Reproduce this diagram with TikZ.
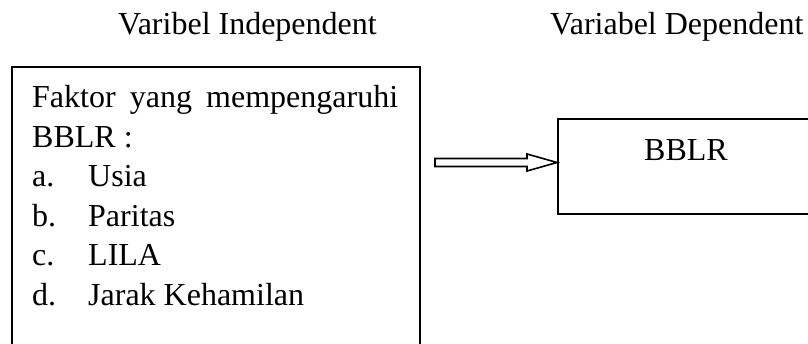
\documentclass[tikz,border=0pt]{standalone}
\usepackage{fontspec}
\setmainfont{Liberation Serif}
\begin{document}
\begin{tikzpicture}[x=1pt,y=-1pt,
  txt/.style={inner sep=0pt, anchor=base west, font=\fontsize{32}{38}\selectfont},
  frame/.style={draw=black, line width=2pt, inner sep=0pt, anchor=north west},
  blockarrow/.style={draw=black, line width=1.6pt, fill=white, line join=miter}]
  \useasboundingbox (0,0) rectangle (808,344);
  \clip (0,0) rectangle (808,344);

  % column headings
  \node[txt] (hind) at (118,35) {Varibel Independent};
  \node[txt] (hdep) at (550,35) {Variabel Dependent};

  % independent variable box
  \node[frame, minimum width=408pt, minimum height=300pt] (indep) at (11,66) {};
  \node[txt] (l1) at (32,108) {\makebox[366pt][s]{Faktor yang mempengaruhi}};
  \node[txt] (l2) at (32,147.5) {BBLR :};
  \node[txt] (ia) at (32,187) {a.};
  \node[txt] (ta) at (88,187) {Usia};
  \node[txt] (ib) at (32,226.5) {b.};
  \node[txt] (tb) at (88,226.5) {Paritas};
  \node[txt] (ic) at (32,266) {c.};
  \node[txt] (tc) at (88,266) {LILA};
  \node[txt] (id) at (32,305.5) {d.};
  \node[txt] (td) at (88,305.5) {Jarak Kehamilan};

  % dependent variable box
  \node[frame, minimum width=280pt, minimum height=95pt] (dep) at (557,118) {};
  \node[txt] (bblr) at (644,161) {BBLR};

  % hollow block arrow from the independent box to the dependent box
  \coordinate (tip) at (dep.west |- 0,162.5);
  \begin{scope}[shift={(tip)}]
    \draw[blockarrow] (-122,-4) -- (-30,-4) -- (-30,-8.5) -- (0,0)
      -- (-30,8.5) -- (-30,4) -- (-122,4) -- cycle;
  \end{scope}
\end{tikzpicture}
\end{document}
